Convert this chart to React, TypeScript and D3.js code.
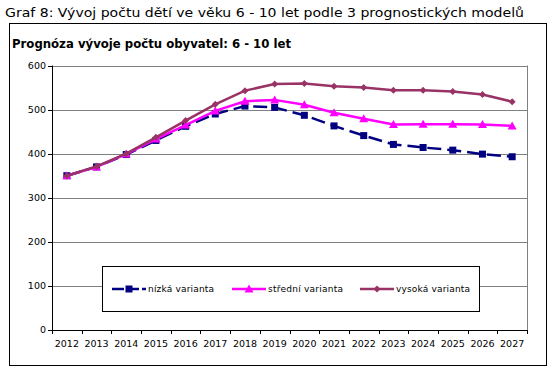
import * as d3 from "d3";

const years = ["2012", "2013", "2014", "2015", "2016", "2017", "2018", "2019", "2020", "2021", "2022", "2023", "2024", "2025", "2026", "2027"];
const nizka = [350, 370, 398, 430, 462, 490, 508, 505, 487, 463, 441, 421, 414, 408, 399, 393];
const stredni = [350, 370, 399, 433, 465, 497, 519, 522, 511, 493, 479, 466, 467, 467, 466, 463];
const vysoka = [350, 371, 400, 437, 475, 512, 543, 558, 559, 553, 550, 544, 544, 541, 534, 518];
const yTicks = [0, 100, 200, 300, 400, 500, 600];

const series = [
    { name: "nízká varianta", values: nizka, color: "#000080", dash: "14,6", marker: "square" },
    { name: "střední varianta", values: stredni, color: "#FF00FF", dash: null, marker: "triangle" },
    { name: "vysoká varianta", values: vysoka, color: "#993366", dash: null, marker: "diamond" },
];

const font = "Verdana, 'DejaVu Sans', sans-serif";

function Marker({ type, cx, cy, color }: { type: string; cx: number; cy: number; color: string }) {
    if (type === "square") return <rect x={cx - 3.5} y={cy - 3.5} width={7} height={7} fill={color} />;
    if (type === "triangle") return <path d={`M${cx},${cy - 4.5}L${cx + 4.5},${cy + 3.5}L${cx - 4.5},${cy + 3.5}Z`} fill={color} />;
    return <path d={`M${cx},${cy - 3.5}L${cx + 3.5},${cy}L${cx},${cy + 3.5}L${cx - 3.5},${cy}Z`} fill={color} />;
}

export default function App() {
    const plot = { left: 52, right: 527, top: 65.5, bottom: 330 };

    const x = d3.scaleBand().domain(years).range([plot.left, plot.right]);
    const y = d3.scaleLinear().domain([0, 600]).range([plot.bottom, plot.top]);
    const cx = (yr: string) => x(yr)! + x.bandwidth() / 2;

    const line = d3.line<number>()
        .x((_, i) => cx(years[i]))
        .y(d => y(d));

    // legend slot positions: line start, text start, text width
    const legendItems = [
        { lx: 112, tx: 148, tw: 66 },
        { lx: 232, tx: 268, tw: 75 },
        { lx: 360, tx: 396, tw: 74 },
    ];

    return (
        <svg width={553} height={373} style={{ position: "absolute", left: 0, top: 0, background: "#fff" }} fontFamily={font}>
            <rect x={0} y={0} width={553} height={373} fill="#fff" />
            <text x={5} y={17} fontSize={12} fill="#000" textLength={519} lengthAdjust="spacingAndGlyphs">
                Graf 8: Vývoj počtu dětí ve věku 6 - 10 let podle 3 prognostických modelů
            </text>
            <rect x={9.5} y={23.5} width={537} height={342} fill="#fff" stroke="#000" strokeWidth={1} />
            <text x={12} y={48} fontSize={12} fontWeight="bold" fill="#000" textLength={279} lengthAdjust="spacingAndGlyphs">
                Prognóza vývoje počtu obyvatel: 6 - 10 let
            </text>

            {/* grid */}
            {yTicks.filter(t => t > 0).map(t => (
                <line key={t} x1={plot.left} x2={plot.right} y1={Math.round(y(t)) + 0.5} y2={Math.round(y(t)) + 0.5} stroke="#808080" strokeWidth={1} />
            ))}
            <line x1={plot.right + 0.5} x2={plot.right + 0.5} y1={y(600)} y2={plot.bottom} stroke="#808080" strokeWidth={1} />

            {/* y axis */}
            <line x1={plot.left + 0.5} x2={plot.left + 0.5} y1={y(600)} y2={plot.bottom + 0.5} stroke="#000" />
            {yTicks.map(t => (
                <g key={t}>
                    <line x1={plot.left - 4} x2={plot.left} y1={Math.round(y(t)) + 0.5} y2={Math.round(y(t)) + 0.5} stroke="#000" />
                    <text x={46} y={y(t)} dy="0.35em" textAnchor="end" fontSize={9.5} fill="#000">{t}</text>
                </g>
            ))}

            {/* x axis */}
            <line x1={plot.left} x2={plot.right + 1} y1={plot.bottom + 0.5} y2={plot.bottom + 0.5} stroke="#000" />
            {years.map(yr => (
                <g key={yr}>
                    <line x1={Math.round(x(yr)!) + 0.5} x2={Math.round(x(yr)!) + 0.5} y1={plot.bottom} y2={plot.bottom + 4} stroke="#000" />
                    <text x={cx(yr)} y={344} dy="0.35em" textAnchor="middle" fontSize={9.5} fill="#000">{yr}</text>
                </g>
            ))}
            <line x1={plot.right + 0.5} x2={plot.right + 0.5} y1={plot.bottom} y2={plot.bottom + 4} stroke="#000" />

            {/* series */}
            {series.map(s => (
                <g key={s.name}>
                    <path d={line(s.values)!} fill="none" stroke={s.color} strokeWidth={2.5} strokeDasharray={s.dash ?? undefined} />
                    {s.values.map((v, i) => (
                        <Marker key={i} type={s.marker} cx={cx(years[i])} cy={y(v)} color={s.color} />
                    ))}
                </g>
            ))}

            {/* legend */}
            <rect x={102.5} y={266.5} width={377} height={45} fill="#fff" stroke="#000" />
            {series.map((s, i) => {
                const it = legendItems[i];
                const ly = 289;
                return (
                    <g key={s.name}>
                        <line x1={it.lx} x2={it.lx + 34} y1={ly} y2={ly} stroke={s.color} strokeWidth={2.5} strokeDasharray={s.dash ? "12,3" : undefined} />
                        <Marker type={s.marker} cx={it.lx + 17} cy={ly} color={s.color} />
                        <text x={it.tx} y={ly} dy="0.35em" fontSize={9} fill="#000" textLength={it.tw} lengthAdjust="spacing">{s.name}</text>
                    </g>
                );
            })}
        </svg>
    );
}
